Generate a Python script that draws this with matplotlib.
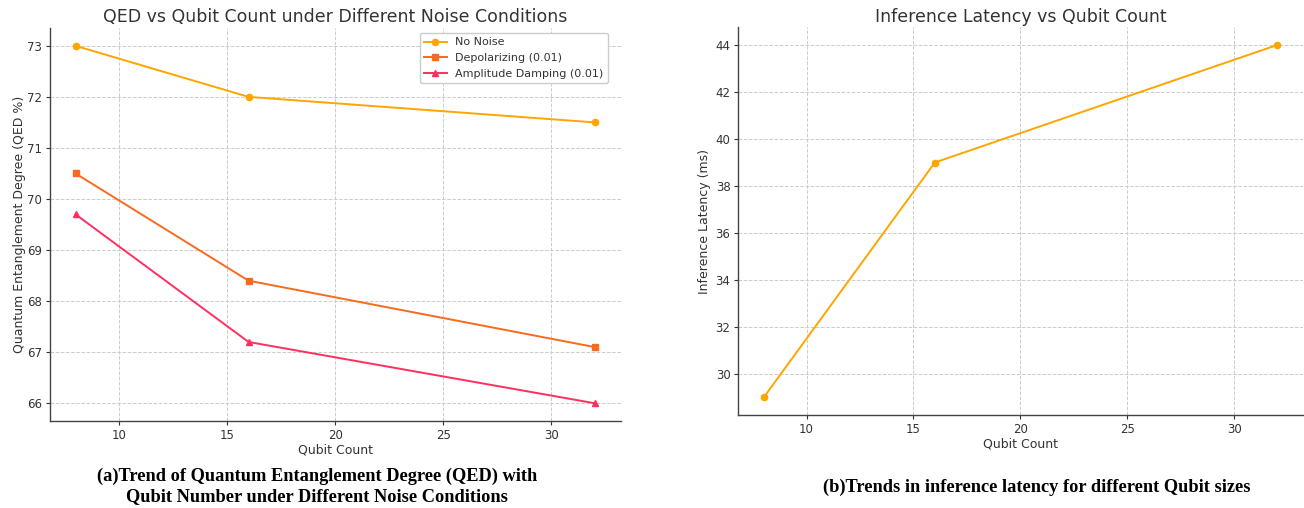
import matplotlib
matplotlib.use("Agg")
from matplotlib import pyplot as plt

# data
qubits = [8, 16, 32]
qed_no_noise = [73.0, 72.0, 71.5]
qed_depol = [70.5, 68.4, 67.1]
qed_amp = [69.7, 67.2, 66.0]
latency = [29, 39, 44]

series_names = ["No Noise", "Depolarizing (0.01)", "Amplitude Damping (0.01)"]
caption_a = "(a)Trend of Quantum Entanglement Degree (QED) with\nQubit Number under Different Noise Conditions"
caption_b = "(b)Trends in inference latency for different Qubit sizes"

txt = "#333333"
plt.rcParams["font.family"] = "DejaVu Sans"
plt.rcParams["text.color"] = txt
plt.rcParams["axes.labelcolor"] = txt
plt.rcParams["xtick.color"] = txt
plt.rcParams["ytick.color"] = txt


def style(ax):
    for s in ["top", "right"]:
        ax.spines[s].set_visible(False)
    for s in ["left", "bottom"]:
        ax.spines[s].set_color("#444444")
        ax.spines[s].set_linewidth(1.0)
    ax.grid(True, linestyle="--", color="#cccccc", linewidth=0.7)
    ax.set_axisbelow(True)
    ax.tick_params(labelsize=8.5, length=3, width=0.8, pad=2.5)


fig = plt.figure(figsize=(13.04, 5.08), dpi=100)

ax1 = fig.add_axes([0.038, 0.171, 0.438, 0.774])
ax1.plot(qubits, qed_no_noise, marker="o", markersize=4.5, color="#FFA500", lw=1.4, label=series_names[0])
ax1.plot(qubits, qed_depol, marker="s", markersize=4.5, color="#F96A1E", lw=1.4, label=series_names[1])
ax1.plot(qubits, qed_amp, marker="^", markersize=4.5, color="#FF2F5E", lw=1.4, label=series_names[2])
style(ax1)
ax1.set_title("QED vs Qubit Count under Different Noise Conditions", fontsize=12.5, pad=4)
ax1.set_xlabel("Qubit Count", fontsize=9, labelpad=1)
ax1.set_ylabel("Quantum Entanglement Degree (QED %)", fontsize=9, labelpad=1)
ax1.legend(loc="upper right", bbox_to_anchor=(0.978, 0.987), borderaxespad=0,
           fontsize=8, framealpha=1)

ax2 = fig.add_axes([0.566, 0.183, 0.433, 0.763])
ax2.plot(qubits, latency, marker="o", markersize=4.5, color="#FFA500", lw=1.4)
style(ax2)
ax2.set_title("Inference Latency vs Qubit Count", fontsize=12.5, pad=4)
ax2.set_xlabel("Qubit Count", fontsize=9, labelpad=1)
ax2.set_ylabel("Inference Latency (ms)", fontsize=9, labelpad=3)

fig.text(0.243, 0.005, caption_a, ha="center", va="bottom", fontsize=13.2,
         family="Liberation Serif", weight="bold", color="black", linespacing=1.25)
fig.text(0.795, 0.023, caption_b, ha="center", va="bottom", fontsize=13.2,
         family="Liberation Serif", weight="bold", color="black")

fig.savefig("out.png", dpi=100)
